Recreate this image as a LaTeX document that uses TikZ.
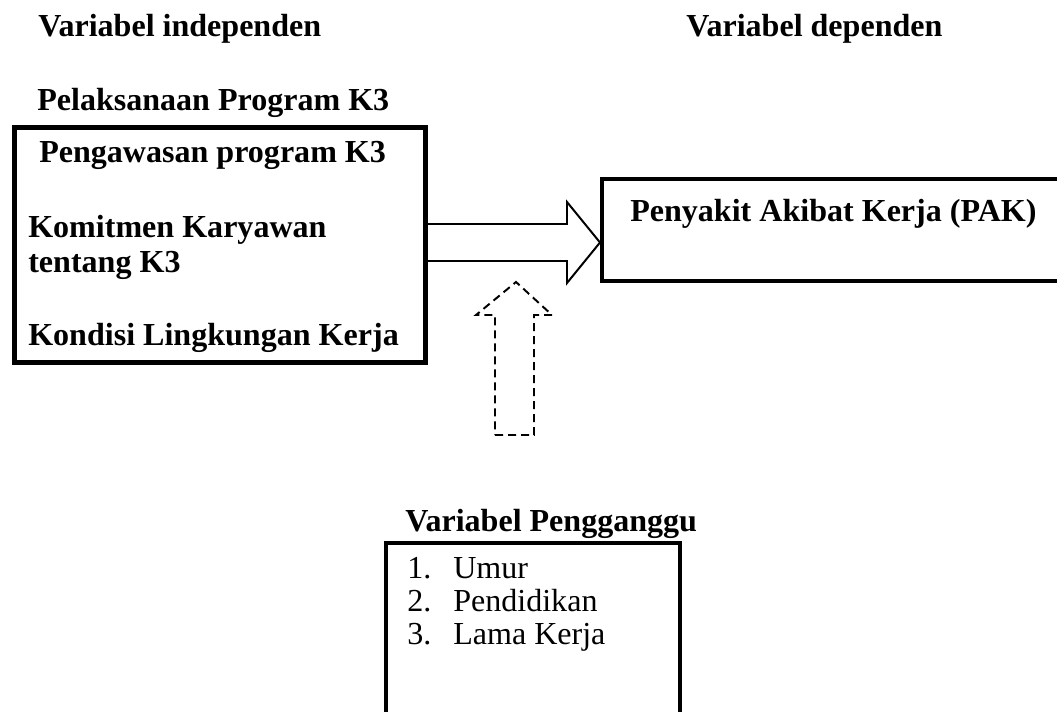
\documentclass[tikz,border=0pt]{standalone}
\usepackage{fontspec}
\setmainfont{Liberation Serif}
\usetikzlibrary{calc}

\begin{document}
\begin{tikzpicture}[
		judul/.style={inner sep=0pt, anchor=base west, font=\fontsize{22.8}{27}\selectfont\bfseries},
		isi/.style={inner sep=0pt, anchor=base west, font=\fontsize{22.8}{27}\selectfont},
		kotak/.style={draw, line width=2.85pt, inner sep=0pt},
		panahblok/.style={draw, line width=1.4pt, line join=miter},
		panahputus/.style={draw, line width=1.4pt, dash pattern=on 0.2cm off 0.125cm},
	]
	\useasboundingbox (0,0) rectangle (26.425,17.775);

	% boxes
	\node[kotak, line width=3.56pt, minimum width=10.275cm, minimum height=5.875cm] (prog) at (5.5, 11.65) {};
	\node[kotak, minimum width=11.95cm, minimum height=2.55cm] (pak) at (21.025, 12.025) {};
	\node[kotak, minimum width=7.35cm, minimum height=4.925cm] (ganggu) at (13.325, 1.7375) {};

	% headings
	\node[judul] (indep) at (0.95, 16.85) {Variabel independen};
	\node[judul] (dep) at (17.15, 16.85) {Variabel dependen};
	\node[judul] (pelaks) at (0.925, 15.0) {Pelaksanaan Program K3};
	\node[judul] (pengg) at (10.125, 4.5) {Variabel Pengganggu};

	% text in the boxes
	\node[judul] (awas) at (0.975, 13.7) {Pengawasan program K3};
	\node[judul] (komit) at (0.7, 11.825) {Komitmen Karyawan};
	\node[judul] (tentang) at (0.7, 10.95) {tentang K3};
	\node[judul] (kondisi) at (0.7, 9.125) {Kondisi Lingkungan Kerja};
	\node[judul] (penyakit) at (15.75, 12.225) {Penyakit Akibat Kerja (PAK)};

	\node[isi] (n1) at (10.175, 3.325) {1.};
	\node[isi] (n2) at (10.175, 2.5) {2.};
	\node[isi] (n3) at (10.175, 1.675) {3.};
	\node[isi] (umur) at (11.325, 3.325) {Umur};
	\node[isi] (didik) at (11.325, 2.5) {Pendidikan};
	\node[isi] (lama) at (11.325, 1.675) {Lama Kerja};

	% block arrow between the boxes
	\draw[panahblok] (prog.east |- 0,12.175) -- (14.175,12.175) -- (14.175,12.725)
		-- (pak.west |- 0,11.7125) -- (14.175,10.7) -- (14.175,11.25) -- (prog.east |- 0,11.25);

	% dashed arrow from below
	\coordinate (ekor) at (12.8625, 6.9);
	\coordinate (ujung) at (12.9, 10.725);
	\draw[panahputus] (ekor -| 12.375,0) -- (ekor -| 13.35,0) -- (13.35,9.9) -- (13.8,9.9)
		-- (ujung) -- (11.9,9.9) -- (12.375,9.9) -- cycle;
\end{tikzpicture}
\end{document}
